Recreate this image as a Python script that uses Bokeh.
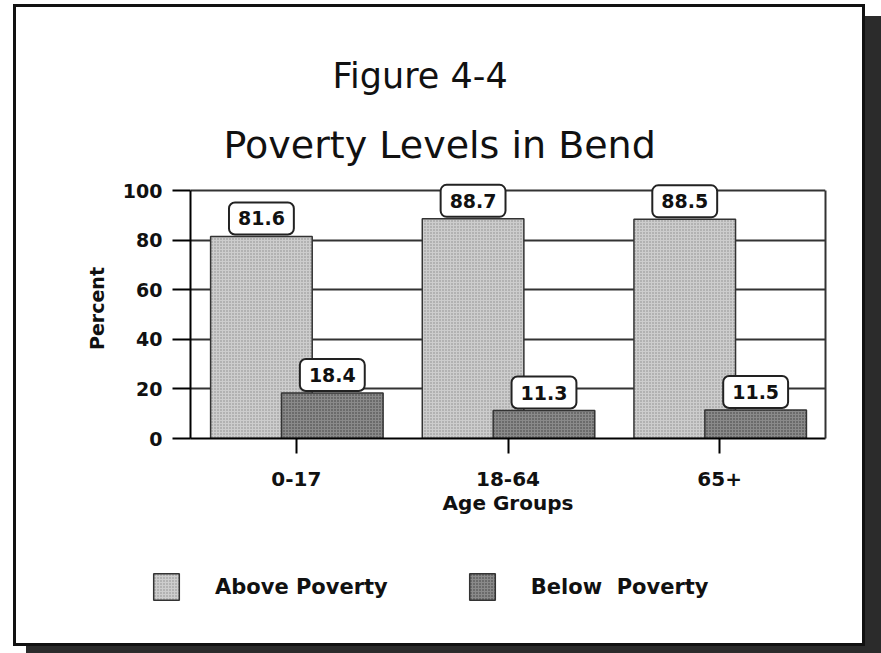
from bokeh.plotting import figure
from bokeh.layouts import column
from bokeh.models import (FactorRange, Range1d, ColumnDataSource, Label, Legend, LegendItem,
                          Title, FixedTicker, LinearAxis, InlineStyleSheet)
from bokeh.transform import dodge
from bokeh.embed import file_html
from bokeh.resources import INLINE

categories = ["0-17", "18-64", "65+"]
above_poverty = [81.6, 88.7, 88.5]
below_poverty = [18.4, 11.3, 11.5]
y_ticks = [0, 20, 40, 60, 80, 100]
series_names = ["Above Poverty", "Below  Poverty"]

FONT = "DejaVu Sans"
OFF_A = -0.165
OFF_B = 0.17

src = ColumnDataSource(data=dict(cat=categories, above=above_poverty, below=below_poverty))

# page frame with drop shadow (CSS, behind the transparent canvases)
frame_css = InlineStyleSheet(css="""
:host {
  background-color: #ffffff;
  background-image: linear-gradient(#ffffff, #ffffff), linear-gradient(#111111, #111111),
                    linear-gradient(#2b2b2b, #2b2b2b);
  background-position: 16px 7px, 13px 4px, 26px 16px;
  background-size: 846px 636px, 852px 642px, 855px 637px;
  background-repeat: no-repeat;
}
""")

above_style = dict(fill_color="#cdcdcd", line_color="#333333", line_width=1.5,
                   hatch_pattern="dot", hatch_color="#8a8a8a", hatch_scale=3, hatch_weight=1)
below_style = dict(fill_color="#8a8a8a", line_color="#333333", line_width=1.5,
                   hatch_pattern="dot", hatch_color="#3a3a3a", hatch_scale=3, hatch_weight=1)

p = figure(width=881, height=560, x_range=FactorRange(*categories, range_padding=0),
           y_range=Range1d(0, 105), output_backend="svg", toolbar_location=None,
           min_border_left=190, min_border_right=56, min_border_top=178, min_border_bottom=122,
           title_location=None)
p.frame_align = False
p.background_fill_color = "white"
p.border_fill_color = None
p.outline_line_color = None

p.vbar(x=dodge("cat", OFF_A, range=p.x_range), top="above", width=0.48, source=src, **above_style)
p.vbar(x=dodge("cat", OFF_B, range=p.x_range), top="below", width=0.48, source=src, **below_style)

lab_kw = dict(text_align="center", text_baseline="bottom", text_font=FONT,
              text_font_style="bold", text_font_size="19px", text_color="#111111",
              background_fill_color="white", border_line_color="#222222", border_line_width=2,
              border_radius=6, padding=(9, 9), y_offset=2)
for i, (a, b) in enumerate(zip(above_poverty, below_poverty)):
    p.add_layout(Label(x=i + 0.5 + OFF_A, y=a, text=f"{a:.1f}", **lab_kw))
    p.add_layout(Label(x=i + 0.5 + OFF_B, y=b, text=f"{b:.1f}", **lab_kw))

# axes
p.yaxis.ticker = FixedTicker(ticks=y_ticks)
p.yaxis.bounds = (0, 100)
p.yaxis.major_tick_out = 18
p.yaxis.major_tick_in = 0
p.yaxis.minor_tick_line_color = None
p.yaxis.major_tick_line_width = 2
p.yaxis.axis_line_width = 2
p.yaxis.major_label_text_font = FONT
p.yaxis.major_label_text_font_style = "bold"
p.yaxis.major_label_text_font_size = "19px"
p.yaxis.major_label_text_color = "#111111"
p.yaxis.major_label_standoff = 10
p.yaxis.axis_label = "Percent"
p.yaxis.axis_label_text_font = FONT
p.yaxis.axis_label_text_font_style = "bold"
p.yaxis.axis_label_text_font_size = "19px"
p.yaxis.axis_label_text_color = "#111111"
p.yaxis.axis_label_standoff = 12

right_axis = LinearAxis(ticker=FixedTicker(ticks=[]), bounds=(0, 100), axis_line_width=2,
                        axis_line_color="#333333", major_tick_line_color=None,
                        minor_tick_line_color=None)
p.add_layout(right_axis, "right")

p.xaxis.major_tick_out = 15
p.xaxis.major_tick_in = 0
p.xaxis.major_tick_line_width = 2
p.xaxis.axis_line_width = 2
p.xaxis.major_label_text_font = FONT
p.xaxis.major_label_text_font_style = "bold"
p.xaxis.major_label_text_font_size = "20px"
p.xaxis.major_label_text_color = "#111111"
p.xaxis.major_label_standoff = 18
p.xaxis.axis_label = "Age Groups"
p.xaxis.axis_label_text_font = FONT
p.xaxis.axis_label_text_font_style = "bold"
p.xaxis.axis_label_text_font_size = "20px"
p.xaxis.axis_label_text_color = "#111111"
p.xaxis.axis_label_standoff = 2

p.xgrid.grid_line_color = None
p.ygrid.ticker = FixedTicker(ticks=y_ticks)
p.ygrid.grid_line_color = "#333333"
p.ygrid.grid_line_width = 2

# titles
t2 = Title(text="Poverty Levels in Bend", align="left", offset=33, standoff=23,
           text_font=FONT, text_font_size="38px", text_font_style="normal", text_color="#111111")
t1 = Title(text="Figure 4-4", align="left", offset=142, standoff=27,
           text_font=FONT, text_font_size="35px", text_font_style="normal", text_color="#111111")
p.add_layout(t2, "above")
p.add_layout(t1, "above")

# legend strip (its own small figure so the legend is not clipped by the main plot frame);
# its bars lie far outside its visible y range, only the legend swatches show
leg = figure(width=881, height=93, x_range=FactorRange(*categories, range_padding=0),
             y_range=Range1d(1000, 1100), output_backend="svg", toolbar_location=None,
             x_axis_location=None, y_axis_location=None, min_border=0, title_location=None)
leg.frame_align = False
leg.background_fill_color = None
leg.border_fill_color = None
leg.outline_line_color = None
leg.grid.visible = False
la = leg.vbar(x=dodge("cat", OFF_A, range=leg.x_range), top="above", width=0.48, source=src, **above_style)
lb = leg.vbar(x=dodge("cat", OFF_B, range=leg.x_range), top="below", width=0.48, source=src, **below_style)

legend = Legend(items=[LegendItem(label=series_names[0], renderers=[la]),
                       LegendItem(label=series_names[1], renderers=[lb])],
                orientation="horizontal", location=(150, 50), margin=0, padding=0,
                glyph_width=32, glyph_height=33, label_standoff=33, spacing=78,
                label_text_font=FONT, label_text_font_style="bold", label_text_font_size="21px",
                label_text_color="#111111", border_line_color=None, background_fill_alpha=0)
leg.add_layout(legend, "center")

layout = column(p, leg, spacing=0, stylesheets=[frame_css])
open("out.html", "w").write(file_html(layout, INLINE))
